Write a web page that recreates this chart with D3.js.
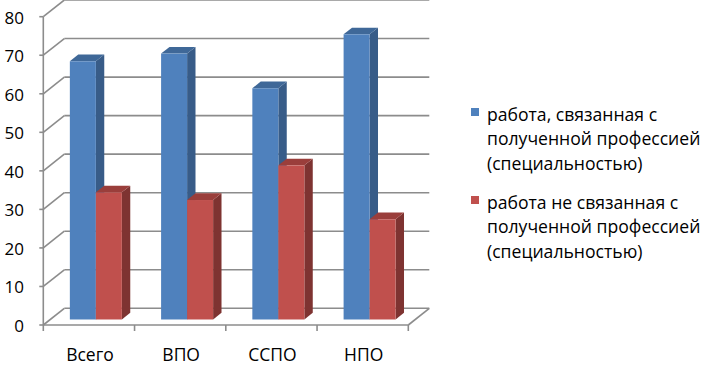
<!DOCTYPE html>
<html><head><meta charset="utf-8">
<script src="https://cdn.jsdelivr.net/npm/d3@7"></script>
<style>body{margin:0;background:#fff}svg{display:block}</style>
</head><body>
<svg id="c" width="705" height="365"></svg>
<script>
const categories = ["Всего", "ВПО", "ССПО", "НПО"];
const seriesLines = [["работа, связанная с", "полученной профессией", "(специальностью)"],
                     ["работа не связанная с", "полученной профессией", "(специальностью)"]];
const related = [67, 69, 60, 74];
const unrelated = [33, 31, 40, 26];
const yTicks = [0, 10, 20, 30, 40, 50, 60, 70, 80];

const svg = d3.select("#c");
const font = "'Open Sans', 'Noto Sans', sans-serif";
const X0 = 43.3, X1 = 408.3, Y0 = 325, Y80 = 16.7;
const DX = 21, DY = -16.7;          // depth of the plot box
const dFront = 0.33, dBack = 0.73;  // bar depth range (fractions)
const grid = "#8c8c8c";

const x = d3.scaleBand().domain(categories).range([X0, X1]).padding(0);
const bw = x.bandwidth();
const xs = d3.scaleBand().domain([0, 1]).range([0.215 * bw, 0.785 * bw]).padding(0);
const y = d3.scaleLinear().domain([0, 80]).range([Y0, Y80]);

const colors = [
  {front: "#4F81BD", side: "#385C88", top: "#3F6898"},
  {front: "#C0504D", side: "#7E3331", top: "#9A3E3B"}
];

// walls
const g = svg.append("g");
yTicks.forEach(v => {
  const yy = y(v);
  g.append("line").attr("x1", X0).attr("y1", yy).attr("x2", X0 + DX).attr("y2", yy + DY)
    .attr("stroke", grid).attr("stroke-width", 1.6);
  g.append("line").attr("x1", X0 + DX).attr("y1", yy + DY).attr("x2", X1 + DX).attr("y2", yy + DY)
    .attr("stroke", grid).attr("stroke-width", 1.6);
});
// floor
g.append("line").attr("x1", X1).attr("y1", Y0).attr("x2", X1 + DX).attr("y2", Y0 + DY)
  .attr("stroke", grid).attr("stroke-width", 1.6);
g.append("line").attr("x1", X0).attr("y1", Y0).attr("x2", X1).attr("y2", Y0)
  .attr("stroke", grid).attr("stroke-width", 1.6);
// front vertical axis
g.append("line").attr("x1", X0).attr("y1", Y80).attr("x2", X0).attr("y2", Y0)
  .attr("stroke", grid).attr("stroke-width", 1.6);
yTicks.forEach(v => {
  g.append("line").attr("x1", X0 - 4).attr("x2", X0).attr("y1", y(v)).attr("y2", y(v))
    .attr("stroke", grid).attr("stroke-width", 1.6);
  g.append("text").attr("x", 24).attr("y", y(v) + 7).attr("text-anchor", "end")
    .attr("font-family", font).attr("font-size", 17).attr("fill", "#000").text(v);
});
// x ticks
const bounds = categories.map(c => x(c)).concat([X1]);
bounds.forEach(b => {
  g.append("line").attr("x1", b).attr("x2", b).attr("y1", Y0).attr("y2", Y0 + 6)
    .attr("stroke", grid).attr("stroke-width", 1.6);
});
categories.forEach(c => {
  g.append("text").attr("x", x(c) + bw / 2 + 1).attr("y", 361).attr("text-anchor", "middle")
    .attr("font-family", font).attr("font-size", 17.5).attr("fill", "#000").text(c);
});

// bars
const bars = svg.append("g");
const fdx = DX * dFront, fdy = DY * dFront;
const bdx = DX * (dBack - dFront), bdy = DY * (dBack - dFront);
categories.forEach((c, i) => {
  [related[i], unrelated[i]].forEach((v, s) => {
    const xl = x(c) + xs(s) + fdx, xr = xl + xs.bandwidth();
    const yt = y(v) + fdy, yb = y(0) + fdy;
    const col = colors[s];
    bars.append("polygon")
      .attr("points", [[xr, yt], [xr + bdx, yt + bdy], [xr + bdx, yb + bdy], [xr, yb]].map(p => p.join(",")).join(" "))
      .attr("fill", col.side);
    bars.append("polygon")
      .attr("points", [[xl, yt], [xr, yt], [xr + bdx, yt + bdy], [xl + bdx, yt + bdy]].map(p => p.join(",")).join(" "))
      .attr("fill", col.top);
    bars.append("rect").attr("x", xl).attr("y", yt).attr("width", xr - xl).attr("height", yb - yt)
      .attr("fill", col.front);
  });
});

// legend
const leg = svg.append("g");
const legTop = [121, 209];
seriesLines.forEach((lines, s) => {
  leg.append("rect").attr("x", 471).attr("y", legTop[s] - 13).attr("width", 8).attr("height", 8)
    .attr("fill", colors[s].front);
  lines.forEach((t, k) => {
    leg.append("text").attr("x", 487).attr("y", legTop[s] + k * 24.3)
      .attr("font-family", font).attr("font-size", 17.6).attr("fill", "#000").text(t);
  });
});
</script>
</body></html>
